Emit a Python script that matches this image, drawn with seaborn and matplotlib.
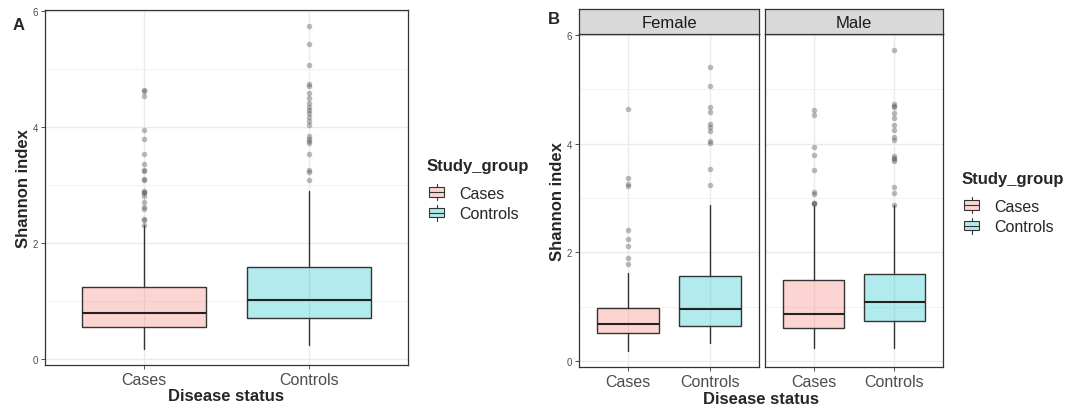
import matplotlib
matplotlib.use("Agg")
import matplotlib.pyplot as plt
import seaborn as sns
from matplotlib.patches import Rectangle
from matplotlib.legend_handler import HandlerBase
from matplotlib.lines import Line2D

# -------------------- Data --------------------
groups = ["Cases", "Controls"]
sexes = ["Female", "Male"]

# Panel A: all samples
a_q1 = [0.54, 0.70]
a_med = [0.79, 1.01]
a_q3 = [1.24, 1.59]
a_lo = [0.17, 0.24]
a_hi = [2.30, 2.89]
a_fliers = [
    [4.64, 4.62, 4.53, 3.94, 3.79, 3.53, 3.36, 3.25, 3.24, 3.10, 3.08,
     2.90, 2.88, 2.86, 2.81, 2.70, 2.62, 2.58, 2.41, 2.40, 2.30],
    [5.74, 5.44, 5.07, 4.75, 4.70, 4.59, 4.50, 4.41, 4.35, 4.30, 4.25,
     4.18, 4.10, 4.04, 3.84, 3.80, 3.76, 3.72, 3.53, 3.25, 3.22, 3.09],
]

# Panel B: split by sex
b_q1 = {"Female": [0.52, 0.64], "Male": [0.60, 0.74]}
b_med = {"Female": [0.68, 0.96], "Male": [0.86, 1.09]}
b_q3 = {"Female": [0.98, 1.56], "Male": [1.50, 1.60]}
b_lo = {"Female": [0.19, 0.33], "Male": [0.24, 0.24]}
b_hi = {"Female": [1.62, 2.87], "Male": [2.85, 2.88]}
b_fliers = {
    "Female": [
        [4.64, 3.36, 3.26, 3.23, 2.41, 2.24, 2.12, 1.89, 1.78],
        [5.42, 5.06, 4.67, 4.59, 4.37, 4.30, 4.23, 4.05, 4.02, 3.53, 3.24],
    ],
    "Male": [
        [4.63, 4.52, 3.94, 3.79, 3.52, 3.11, 3.07, 2.90, 2.90, 2.89],
        [5.73, 4.73, 4.70, 4.67, 4.57, 4.48, 4.35, 4.26, 4.13, 4.07, 3.77,
         3.74, 3.71, 3.68, 3.21, 3.10, 2.88],
    ],
}

yticks = [0, 2, 4, 6]

# -------------------- Style --------------------
sns.set_theme(style="white")
plt.rcParams["font.family"] = ["Liberation Sans", "DejaVu Sans"]

pal = sns.color_palette(["#F8766D", "#00BFC4"])
ALPHA = 0.3
EDGE = "#333333"
GRID = "#EBEBEB"

W, H = 1077, 410
fig = plt.figure(figsize=(W / 100, H / 100), dpi=100)


def px_axes(left, top, right, bottom):
    return fig.add_axes([left / W, 1 - bottom / H, (right - left) / W, (bottom - top) / H])


def draw_boxes(ax, q1, med, q3, lo, hi, fliers, show_y=True):
    stats = []
    for i in range(len(groups)):
        stats.append(dict(q1=q1[i], med=med[i], q3=q3[i], whislo=lo[i],
                          whishi=hi[i], fliers=fliers[i], label=groups[i]))
    bp = ax.bxp(stats, positions=[1, 2], widths=0.75, patch_artist=True,
                showfliers=True,
                boxprops=dict(edgecolor=EDGE, linewidth=1.0),
                medianprops=dict(color="#222222", linewidth=1.5),
                whiskerprops=dict(color=EDGE, linewidth=1.0),
                capprops=dict(linewidth=0),
                flierprops=dict(marker="o", markersize=4, markerfacecolor="#555555",
                                markeredgecolor="none", alpha=0.4))
    for patch, c in zip(bp["boxes"], pal):
        patch.set_facecolor((*c, ALPHA))
    ax.set_xlim(0.4, 2.6)
    ax.set_ylim(-0.11, 6.02)
    ax.set_yticks(yticks)
    ax.set_yticks([1, 3, 5], minor=True)
    ax.set_xticks([1, 2])
    ax.set_xticklabels(groups, fontsize=11.5)
    ax.tick_params(axis="y", labelsize=7, length=3, width=0.6, pad=2, left=True,
                   color="#333333")
    ax.tick_params(axis="y", which="minor", length=0)
    ax.tick_params(axis="x", length=3, width=0.6, pad=2, bottom=True, color="#333333")
    for lab in ax.get_xticklabels() + ax.get_yticklabels():
        lab.set_color("#4D4D4D")
    if not show_y:
        ax.tick_params(axis="y", labelleft=False, left=False)
    ax.grid(True, which="major", color=GRID, linewidth=1.0)
    ax.grid(True, which="minor", axis="y", color="#F3F3F3", linewidth=0.8)
    ax.set_axisbelow(True)
    for s in ax.spines.values():
        s.set_color("#333333")
        s.set_linewidth(0.9)
    ax.set_xlabel("")
    ax.set_ylabel("")


class BoxKey(HandlerBase):
    def create_artists(self, legend, orig_handle, xdescent, ydescent, width, height,
                       fontsize, trans):
        c = orig_handle.get_facecolor()
        x0, w = -xdescent + width * 0.1, width * 0.8
        y0, h = -ydescent + height * 0.15, height * 0.7
        rect = Rectangle((x0, y0), w, h, facecolor=c, edgecolor=EDGE, lw=0.8,
                         transform=trans)
        med = Line2D([x0, x0 + w], [y0 + h / 2] * 2, color=EDGE, lw=0.8, transform=trans)
        xm = x0 + w / 2
        wl = Line2D([xm, xm], [-ydescent - height * 0.1, y0], color=EDGE, lw=0.8,
                    transform=trans)
        wh = Line2D([xm, xm], [y0 + h, -ydescent + height * 1.1], color=EDGE, lw=0.8,
                    transform=trans)
        return [rect, med, wl, wh]


def add_legend(x, y):
    handles = [Rectangle((0, 0), 1, 1, facecolor=(*c, ALPHA)) for c in pal]
    leg = fig.legend(handles, groups, loc="upper left", bbox_to_anchor=(x / W, 1 - y / H),
                     frameon=False, title="Study_group", fontsize=11.5,
                     title_fontproperties=dict(weight="bold", size=12),
                     handler_map={Rectangle: BoxKey()}, handlelength=1.2,
                     handleheight=0.9, handletextpad=0.8, labelspacing=0.35,
                     borderaxespad=0, borderpad=0)
    leg._legend_box.align = "left"
    leg._legend_box.sep = 9
    return leg


# -------------------- Panel A --------------------
axA = px_axes(45, 11, 408, 366)
draw_boxes(axA, a_q1, a_med, a_q3, a_lo, a_hi, a_fliers)
axA.set_ylabel("Shannon index", fontsize=12, fontweight="bold", labelpad=1)
axA.set_xlabel("Disease status", fontsize=12, fontweight="bold", labelpad=1)
fig.text(13 / W, 1 - 30 / H, "A", fontsize=12, fontweight="bold")
add_legend(427, 159)

# -------------------- Panel B --------------------
panel_x = {"Female": (579, 759), "Male": (765, 943)}
strip_top, strip_bot, plot_bot = 10, 35, 368
axes_b = []
for j, sx in enumerate(sexes):
    l, r = panel_x[sx]
    ax = px_axes(l, strip_bot, r, plot_bot)
    draw_boxes(ax, b_q1[sx], b_med[sx], b_q3[sx], b_lo[sx], b_hi[sx], b_fliers[sx],
               show_y=(j == 0))
    sax = px_axes(l, strip_top, r, strip_bot)
    sax.set_facecolor("#D9D9D9")
    sax.set_xticks([])
    sax.set_yticks([])
    for s in sax.spines.values():
        s.set_color("#333333")
        s.set_linewidth(0.9)
    sax.text(0.5, 0.45, sx, ha="center", va="center", fontsize=12, color="#1A1A1A",
             transform=sax.transAxes)
    axes_b.append(ax)

axes_b[0].set_ylabel("Shannon index", fontsize=12, fontweight="bold", labelpad=1)
fig.text((579 + 943) / 2 / W, 1 - 404 / H, "Disease status", ha="center",
         fontsize=12, fontweight="bold")
fig.text(548 / W, 1 - 24 / H, "B", fontsize=12, fontweight="bold")
add_legend(962, 172)

fig.savefig("out.png", dpi=100, facecolor="white")
